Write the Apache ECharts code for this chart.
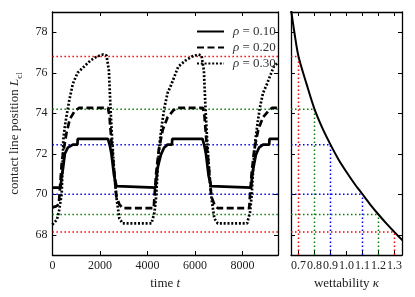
<!DOCTYPE html>
<html><head><meta charset="utf-8">
<script src="https://cdn.jsdelivr.net/npm/echarts@6/dist/echarts.min.js"></script>
<style>html,body{margin:0;padding:0;background:#fff}#c{width:415px;height:297px}</style>
</head><body><div id="c"></div>
<script>
// ---- data ----
const timeTicks = [0, 2000, 4000, 6000, 8000];
const yTicks = [68, 70, 72, 74, 76, 78];
const kappaTicks = [0.7, 0.8, 0.9, 1.0, 1.1, 1.2, 1.3];
const timeRange = [0, 9500];
const yRange = [67, 79];
const kappaRange = [0.653, 1.347];
const seriesNames = ['ρ = 0.10', 'ρ = 0.20', 'ρ = 0.30'];

const rho10 = [
  [0,70.33],[345,70.33],[380,70.8],[450,71.3],[525,72.0],[650,72.3],[860,72.45],[1055,72.45],[1065,72.73],
  [2340,72.73],[2420,72.4],[2485,72.0],[2600,70.9],[2700,70.4],[2750,70.33],
  [4345,70.33],[4380,70.8],[4440,71.35],[4570,71.95],[4700,72.3],[4850,72.45],[5035,72.45],[5045,72.73],
  [6320,72.73],[6400,72.4],[6465,72.0],[6580,70.9],[6680,70.4],[6730,70.33],
  [8370,70.33],[8400,70.8],[8470,71.35],[8570,71.95],[8700,72.3],[8870,72.45],[9130,72.45],[9140,72.73],[9500,72.73]
];
const rho20 = [
  [0,69.35],[150,69.4],[270,69.5],[330,70.5],[390,71.5],[460,72.1],[590,73.0],[730,73.7],[930,74.1],[1130,74.27],
  [2340,74.27],[2405,73.85],[2500,72.4],[2610,71.05],[2690,69.9],[2820,69.5],[2960,69.31],
  [4270,69.31],[4290,69.75],[4370,71.05],[4480,72.2],[4650,73.2],[4850,73.8],[5100,74.15],[5240,74.27],
  [6340,74.27],[6405,73.85],[6500,72.4],[6610,71.05],[6690,69.9],[6820,69.5],[6960,69.31],
  [8290,69.31],[8310,69.75],[8390,71.05],[8500,72.2],[8670,73.2],[8870,73.8],[9120,74.15],[9260,74.27],[9500,74.27]
];
const rho30 = [
  [0,68.5],[60,68.5],[190,68.75],[270,69.1],[325,69.5],[390,70.0],[425,71.2],[460,72.7],[530,73.4],[600,73.9],
  [720,74.7],[860,75.45],[1060,76.0],[1330,76.3],[1600,76.6],[1870,76.8],[2140,76.9],[2280,76.85],
  [2380,76.1],[2445,74.3],[2515,72.7],[2605,71.05],[2700,69.8],[2820,68.8],[2960,68.56],
  [4170,68.56],[4300,69.1],[4370,69.9],[4440,71.4],[4530,72.7],[4630,73.6],[4720,74.3],[4850,75.0],[5000,75.4],
  [5300,76.3],[5600,76.6],[5870,76.8],[6140,76.9],[6280,76.85],
  [6380,76.1],[6445,74.3],[6515,72.7],[6605,71.05],[6700,69.8],[6820,68.8],[6960,68.56],
  [8200,68.56],[8320,69.1],[8390,69.9],[8460,71.4],[8550,72.7],[8650,73.6],[8740,74.3],[8870,75.0],[9020,75.4],
  [9320,76.3],[9500,76.5]
];

const refL = [76.8, 74.2, 72.45, 70.0, 69.0, 68.13];
const refKappa = [0.7, 0.8, 0.9, 1.1, 1.2, 1.3];
const refColors = ['#ff0000', '#008000', '#0000ff', '#0000ff', '#008000', '#ff0000'];

const curveKappa = [0.65, 0.675, 0.7, 0.75, 0.8, 0.85, 0.9, 0.95, 1.0, 1.05, 1.1, 1.15, 1.2, 1.25, 1.3, 1.35];
const curveL = [79.3, 77.95, 76.8, 75.45, 74.2, 73.25, 72.45, 71.72, 71.1, 70.52, 70.0, 69.48, 69.0, 68.55, 68.13, 67.72];

// ---- chart ----
const FONT = 'Liberation Serif';
const TXT = '#222';
const chart = echarts.init(document.getElementById('c'), null, {renderer: 'canvas'});

function axisBase(extra) {
  return Object.assign({
    type: 'value',
    axisLine: {show: true, onZero: false, lineStyle: {color: '#000', width: 1.3}},
    splitLine: {show: false},
    axisTick: {show: true, inside: true, length: 4, lineStyle: {color: '#000', width: 1}},
    axisLabel: {show: true, color: TXT, fontFamily: FONT, fontSize: 12}
  }, extra);
}
function hiddenLabels(ticks) {
  return {show: false, customValues: ticks};
}
function ticksOf(ticks) {
  return {show: true, inside: true, length: 4, customValues: ticks, lineStyle: {color: '#000', width: 1}};
}
const nameRich = {
  n: {fontFamily: FONT, fontSize: 13, color: TXT},
  i: {fontFamily: FONT, fontSize: 13, fontStyle: 'italic', color: TXT}
};

const xAxes = [
  axisBase({gridIndex: 0, position: 'bottom', min: timeRange[0], max: timeRange[1],
    axisTick: ticksOf(timeTicks),
    axisLabel: {color: TXT, fontFamily: FONT, fontSize: 12, margin: 5, customValues: timeTicks,
      formatter: v => String(Math.round(v))},
    name: '{n|time }{i|t}', nameLocation: 'middle', nameGap: 17,
    nameTextStyle: {rich: nameRich}
  }),
  axisBase({gridIndex: 0, position: 'top', min: timeRange[0], max: timeRange[1],
    axisTick: ticksOf(timeTicks), axisLabel: hiddenLabels(timeTicks)}),
  axisBase({gridIndex: 1, position: 'bottom', min: kappaRange[0], max: kappaRange[1],
    axisTick: ticksOf(kappaTicks),
    axisLabel: {color: TXT, fontFamily: FONT, fontSize: 12, margin: 5, customValues: kappaTicks,
      formatter: v => (+v).toFixed(1)},
    name: '{n|wettability }{i|κ}', nameLocation: 'middle', nameGap: 17,
    nameTextStyle: {rich: nameRich}
  }),
  axisBase({gridIndex: 1, position: 'top', min: kappaRange[0], max: kappaRange[1],
    axisTick: ticksOf(kappaTicks), axisLabel: hiddenLabels(kappaTicks)})
];
const yAxes = [
  axisBase({gridIndex: 0, position: 'left', min: yRange[0], max: yRange[1],
    axisTick: ticksOf(yTicks),
    axisLabel: {color: TXT, fontFamily: FONT, fontSize: 12, margin: 5, customValues: yTicks,
      formatter: v => String(Math.round(v))},
    name: '{n|contact line position }{i|L}{s|cl}', nameLocation: 'middle', nameRotate: 90, nameGap: 24,
    nameTextStyle: {rich: {
      n: {fontFamily: FONT, fontSize: 13, color: TXT, lineHeight: 16, verticalAlign: 'middle'},
      i: {fontFamily: FONT, fontSize: 13, fontStyle: 'italic', color: TXT, lineHeight: 16, verticalAlign: 'middle'},
      s: {fontFamily: FONT, fontSize: 9, color: TXT, lineHeight: 20, verticalAlign: 'bottom'}
    }}
  }),
  axisBase({gridIndex: 0, position: 'right', min: yRange[0], max: yRange[1],
    axisTick: ticksOf(yTicks), axisLabel: hiddenLabels(yTicks)}),
  axisBase({gridIndex: 1, position: 'left', min: yRange[0], max: yRange[1],
    axisTick: ticksOf(yTicks), axisLabel: hiddenLabels(yTicks)}),
  axisBase({gridIndex: 1, position: 'right', min: yRange[0], max: yRange[1],
    axisTick: ticksOf(yTicks), axisLabel: hiddenLabels(yTicks)})
];

const series = [];
const refStyle = c => ({color: c, width: 1.5, type: [1.5, 2.5], cap: 'butt'});
refL.forEach((L, i) => {
  series.push({type: 'line', xAxisIndex: 0, yAxisIndex: 0, silent: true, symbol: 'none', z: 1,
    data: [[timeRange[0], L], [timeRange[1], L]], lineStyle: refStyle(refColors[i])});
  series.push({type: 'line', xAxisIndex: 2, yAxisIndex: 2, silent: true, symbol: 'none', z: 1,
    data: [[kappaRange[0], L], [refKappa[i], L]], lineStyle: refStyle(refColors[i])});
  series.push({type: 'line', xAxisIndex: 2, yAxisIndex: 2, silent: true, symbol: 'none', z: 1,
    data: [[refKappa[i], yRange[0]], [refKappa[i], L]], lineStyle: refStyle(refColors[i])});
});
const mainStyles = [
  {color: '#000', width: 2.7, type: 'solid'},
  {color: '#000', width: 2.7, type: [7, 3.5]},
  {color: '#000', width: 2.7, type: [2, 1.8]}
];
[rho10, rho20, rho30].forEach((d, i) => {
  series.push({name: seriesNames[i], type: 'line', xAxisIndex: 0, yAxisIndex: 0, symbol: 'none',
    showSymbol: false, z: 3, data: d, lineStyle: mainStyles[i], itemStyle: {color: '#000'}});
});
series.push({type: 'line', xAxisIndex: 2, yAxisIndex: 2, symbol: 'none', z: 3, smooth: 0.3,
  data: curveKappa.map((k, i) => [k, curveL[i]]), lineStyle: {color: '#000', width: 2}});

chart.setOption({
  animation: false,
  backgroundColor: '#fff',
  grid: [
    {left: 42, top: 12, width: 236, height: 243},
    {left: 291, top: 12, width: 111, height: 243}
  ],
  xAxis: xAxes,
  yAxis: yAxes,
  legend: {
    data: seriesNames, orient: 'vertical', left: 191, top: 20, itemWidth: 27, itemHeight: 14, itemGap: 3,
    itemStyle: {opacity: 0, borderWidth: 0},
    formatter: name => '{i|ρ}' + name.slice(1),
    textStyle: {fontFamily: FONT, fontSize: 13, color: '#333', padding: [0, 0, 0, 4],
      rich: {i: {fontFamily: FONT, fontSize: 13, fontStyle: 'italic', color: '#333'}}}
  },
  series: series
});
</script></body></html>
